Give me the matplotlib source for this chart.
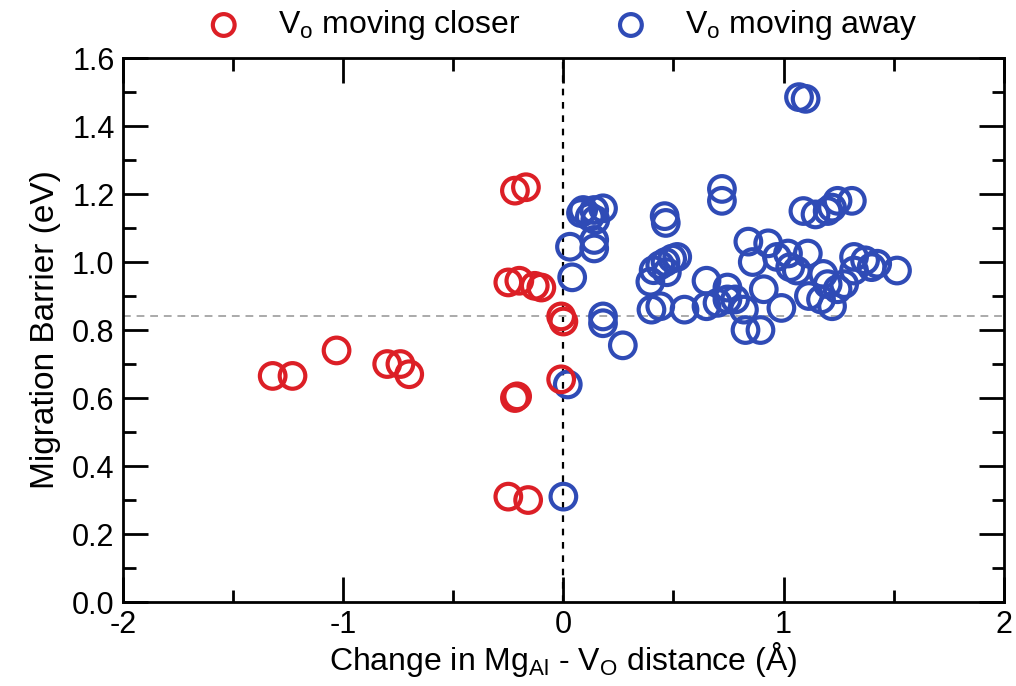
import numpy as np
import matplotlib
matplotlib.use("Agg")
import matplotlib.pyplot as plt
from matplotlib.ticker import MultipleLocator

plt.rcParams['font.family'] = ['Liberation Sans', 'DejaVu Sans']
plt.rcParams['mathtext.fontset'] = 'custom'
plt.rcParams['mathtext.rm'] = 'Liberation Sans'
plt.rcParams['mathtext.it'] = 'Liberation Sans'
plt.rcParams['axes.unicode_minus'] = False

# Vo moving closer (red)
closer_x = [-1.32, -1.23, -1.03, -0.80, -0.74, -0.70, -0.22, -0.21, -0.25, -0.16,
            -0.01, -0.01, 0.00, -0.22, -0.17, -0.25, -0.20, -0.13, -0.10]
closer_y = [0.665, 0.665, 0.74, 0.70, 0.70, 0.67, 0.60, 0.605, 0.31, 0.30,
            0.655, 0.84, 0.825, 1.21, 1.22, 0.94, 0.945, 0.93, 0.925]

# Vo moving away (blue)
away_x = [0.00, 0.02, 0.04, 0.03,
          0.09, 0.14, 0.18, 0.12, 0.145, 0.08,
          0.14, 0.14, 0.18, 0.18, 0.27,
          0.46, 0.465,
          0.41, 0.44, 0.464, 0.494, 0.517, 0.395, 0.47,
          0.40, 0.44, 0.55,
          0.65, 0.70, 0.745, 0.78, 0.65, 0.745, 0.82, 0.827, 0.895,
          0.72, 0.72,
          1.07, 1.10,
          1.09, 1.145, 1.20, 1.22, 1.245, 1.31,
          0.84, 0.93, 0.86, 0.97, 1.02, 1.11, 1.03, 1.06, 0.91, 0.99,
          1.18, 1.20, 1.245, 1.115, 1.17, 1.22,
          1.32, 1.37, 1.425, 1.40, 1.32, 1.515, 1.275]
away_y = [0.31, 0.64, 0.955, 1.045,
          1.153, 1.153, 1.158, 1.133, 1.124, 1.144,
          1.065, 1.04, 0.84, 0.82, 0.755,
          1.135, 1.115,
          0.976, 0.991, 1.00, 1.01, 1.015, 0.942, 0.97,
          0.86, 0.87, 0.86,
          0.87, 0.88, 0.89, 0.89, 0.945, 0.925, 0.86, 0.80, 0.80,
          1.215, 1.18,
          1.485, 1.48,
          1.15, 1.14, 1.15, 1.16, 1.18, 1.18,
          1.06, 1.055, 1.00, 1.015, 1.025, 1.025, 0.985, 0.975, 0.92, 0.865,
          0.965, 0.935, 0.92, 0.90, 0.89, 0.87,
          1.015, 1.005, 0.995, 0.985, 0.975, 0.975, 0.935]

red = '#dc1f26'
blue = '#2f4bb6'

fig = plt.figure(figsize=(10.16, 6.86), dpi=100)
ax = fig.add_axes([0.121, 0.1224, 0.867, 0.793])

ax.axvline(0, color='black', linestyle=(0, (3, 3)), linewidth=1.6, zorder=1)
ax.axhline(0.84, color='#aaaaaa', linestyle=(0, (4, 3)), linewidth=1.4, zorder=1)

ax.scatter(closer_x, closer_y, s=340, facecolors='none', edgecolors=red,
           linewidths=3, label=r'V$_\mathrm{o}$ moving closer', zorder=3)
ax.scatter(away_x, away_y, s=340, facecolors='none', edgecolors=blue,
           linewidths=3, label=r'V$_\mathrm{o}$ moving away', zorder=2)

ax.set_xlim(-2, 2)
ax.set_ylim(0, 1.6)
ax.xaxis.set_major_locator(MultipleLocator(1))
ax.xaxis.set_minor_locator(MultipleLocator(0.5))
ax.yaxis.set_major_locator(MultipleLocator(0.2))
ax.yaxis.set_minor_locator(MultipleLocator(0.1))
ax.yaxis.set_major_formatter(matplotlib.ticker.FormatStrFormatter('%.1f'))
ax.tick_params(which='both', direction='in', top=True, right=True, width=2, labelsize=22)
ax.tick_params(which='major', length=18, pad=6)
ax.tick_params(which='minor', length=9)
for sp in ax.spines.values():
    sp.set_linewidth(2)

ax.set_xlabel(r'Change in Mg$_\mathrm{Al}$ - V$_\mathrm{O}$ distance (Å)', fontsize=23, labelpad=0)
ax.set_ylabel('Migration Barrier (eV)', fontsize=24, labelpad=8)

fig.legend(loc='center', bbox_to_anchor=(0.546, 0.963), ncol=2, frameon=False,
           fontsize=23, columnspacing=2.45, handletextpad=0.7, scatterpoints=1,
           markerscale=0.85)

fig.savefig('out.png', dpi=100)
